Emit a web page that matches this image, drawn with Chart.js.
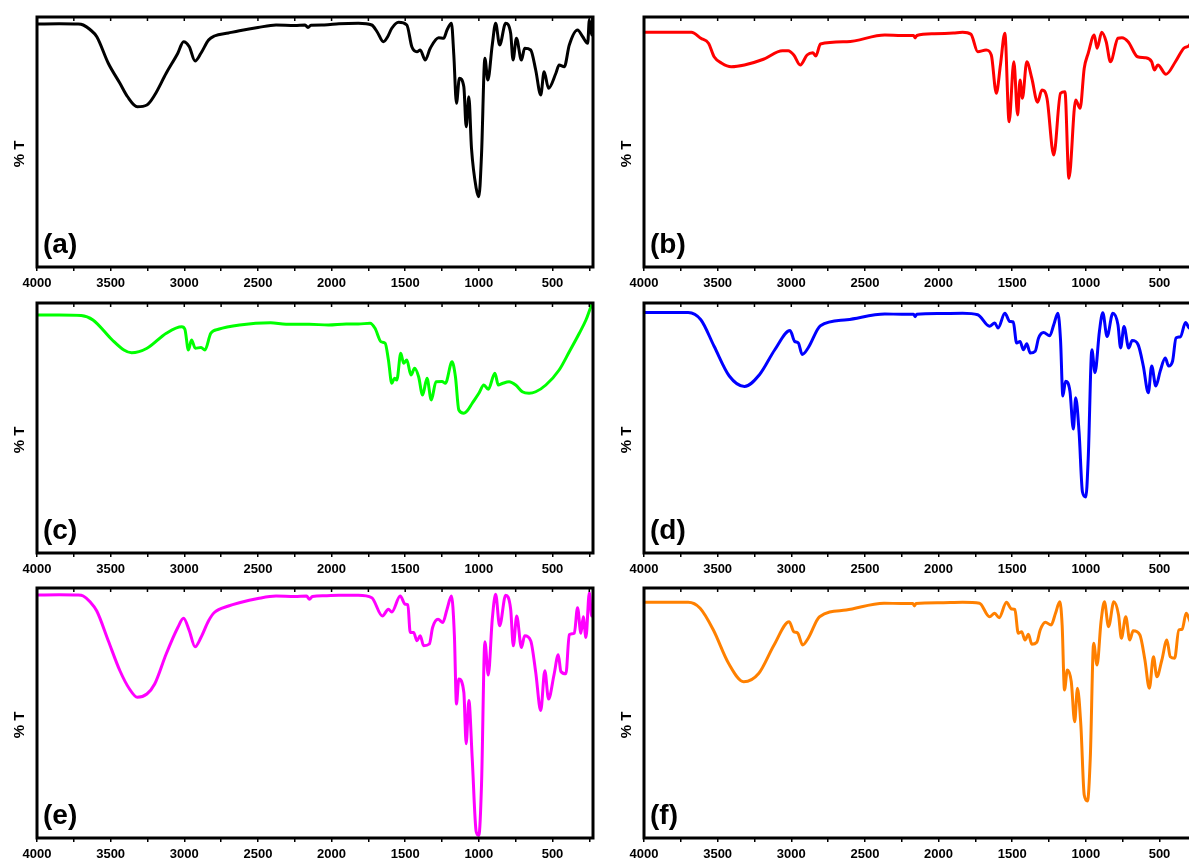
<!DOCTYPE html>
<html><head><meta charset="utf-8">
<script src="https://cdn.jsdelivr.net/npm/chart.js@4/dist/chart.umd.min.js"></script>
<style>
html,body{margin:0;padding:0;background:#fff;overflow:hidden;width:1189px;height:859px;position:relative}
.p{position:absolute;width:600px;height:300px}
</style></head><body>
<div class="p" style="left:0;top:0"><canvas id="ca" width="600" height="300"></canvas></div>
<div class="p" style="left:607px;top:0"><canvas id="cb" width="600" height="300"></canvas></div>
<div class="p" style="left:0;top:286px"><canvas id="cc" width="600" height="300"></canvas></div>
<div class="p" style="left:607px;top:286px"><canvas id="cd" width="600" height="300"></canvas></div>
<div class="p" style="left:0;top:571px"><canvas id="ce" width="600" height="300"></canvas></div>
<div class="p" style="left:607px;top:571px"><canvas id="cf" width="600" height="300"></canvas></div>
<script>
// ---- axis ticks / labels ----
const axisTicks = [4000,3750,3500,3250,3000,2750,2500,2250,2000,1750,1500,1250,1000,750,500,250];
const tickLabels = [4000,3500,3000,2500,2000,1500,1000,500];
const panelLabels = ['(a)','(b)','(c)','(d)','(e)','(f)'];
const yTitle = '% T';

// ---- (a) black ----
const waveA = [4000,3850,3720,3686,3640,3594,3516,3437,3385,3319,
  3254,3201,3123,3044,3005,2966,2927,2887,2835,2796,
  2700,2626,2500,2377,2250,2180,2160,2140,2050,1950,
  1818,1727,1690,1648,1620,1591,1545,1489,1455,1420,
  1398,1364,1330,1273,1239,1216,1186,1170,1152,1132,
  1102,1086,1068,1050,1018,1000,982,959,939,909,
  886,859,818,784,768,745,711,689,648,614,
  580,557,527,477,455,420,386,330,295,261,
  250,234,227];
const transA = [97.2,97.3,97.2,96.8,95.0,92.1,81.5,73.5,68.1,64.1,
  64.8,68.8,77.5,85.5,90.1,88.1,82.4,85.5,90.8,92.4,
  93.6,94.5,95.8,96.8,96.6,96.8,95.8,96.7,96.8,97.3,
  97.5,96.8,94.0,90.1,92.0,95.5,97.9,96.8,88.1,86.1,
  86.8,82.8,87.5,91.7,91.5,94.8,97.5,84.8,65.5,75.5,
  72.1,56.1,68.1,47.5,31.5,28.1,44.8,83.5,74.8,88.8,
  97.5,88.8,97.5,93.5,82.8,91.5,82.8,87.5,86.8,78.8,
  68.8,78.1,71.5,77.5,80.8,80.1,88.8,94.8,92.1,89.5,
  98.8,92.8,100];

// ---- (b) red ----
const waveB = [4000,3850,3678,3614,3562,3524,3472,3408,3318,3189,
  3060,3021,2983,2939,2893,2854,2833,2802,2622,2365,
  2250,2170,2159,2148,2030,1900,1837,1780,1734,1677,
  1642,1608,1580,1550,1521,1489,1463,1447,1431,1401,
  1367,1328,1298,1264,1218,1172,1142,1115,1069,1039,
  1011,984,943,924,892,862,833,782,755,713,
  649,599,553,535,511,456,392,335,300,261,
  227];
const transB = [93.9,93.9,93.9,91.5,89.5,84.1,81.5,80.1,80.8,83.1,
  86.5,86.5,84.8,80.8,84.8,85.7,84.4,89.2,90.1,92.8,
  92.6,92.6,91.6,92.6,93.3,93.6,93.9,93.1,86.1,86.8,
  84.8,69.5,80.8,93.5,58.1,82.1,60.8,74.8,67.5,82.1,
  75.5,65.9,70.8,67.5,44.8,69.5,70.1,35.5,66.8,63.5,
  79.5,85.5,92.8,87.5,93.9,90.1,82.1,91.5,91.7,90.1,
  84.1,83.7,82.1,78.8,80.8,77.1,82.1,87.5,88.5,92.1,
  95];

// ---- (c) green ----
const waveC = [4000,3850,3700,3620,3489,3410,3358,3253,3122,3017,
  2996,2972,2951,2925,2886,2860,2820,2768,2624,2414,
  2309,2152,2021,1900,1818,1739,1705,1664,1636,1614,
  1591,1573,1557,1530,1511,1489,1461,1436,1409,1382,
  1352,1323,1291,1250,1227,1182,1159,1136,1102,1080,
  1045,1000,966,936,891,868,841,795,750,705,
  659,614,545,455,386,318,273,239,227];
const transC = [95.2,95.2,95.0,93.2,85.2,81.2,80.1,81.9,87.9,90.5,
  89.5,81.2,85.2,81.9,82.2,81.2,87.9,89.5,91.2,92.1,
  91.5,91.5,91.2,91.6,91.6,91.9,89.9,84.5,83.9,77.2,
  67.9,69.9,69.2,79.9,75.9,77.2,71.2,73.9,70.5,63.2,
  69.9,61.2,68.5,68.6,67.9,76.5,70.5,57.2,55.9,56.8,
  59.9,63.9,67.2,65.5,71.9,67.2,67.8,68.5,67.2,64.5,
  63.9,64.5,67.2,73.2,80.5,87.9,93.2,98.5,100];

// ---- (d) blue ----
const waveD = [4000,3850,3700,3614,3524,3421,3318,3215,3112,3008,
  2978,2952,2926,2885,2802,2622,2365,2250,2170,2159,
  2148,2000,1837,1734,1654,1619,1596,1550,1516,1493,
  1470,1447,1424,1401,1378,1344,1321,1287,1245,1218,
  1190,1172,1156,1138,1108,1085,1069,1046,1023,1000,
  984,959,938,908,885,856,817,782,764,741,
  709,686,645,610,576,553,525,495,461,438,
  411,388,358,323,296,266,227];
const transD = [96.2,96.2,96.2,93.3,82.7,70.8,66.6,71.4,81.3,89.0,
  84.7,84.0,79.4,82.1,90.9,93.3,95.6,95.5,95.5,94.5,
  95.5,95.8,95.9,95.3,90.7,92.0,90.0,95.9,92.6,92.4,
  84.0,84.6,81.3,83.7,80.0,80.7,86.0,88.2,86.9,91.3,
  95.9,85.3,62.8,68.7,64.7,49.6,62.1,48.3,24.4,22.4,
  37.7,81.3,72.1,88.6,96.1,86.6,95.9,91.3,82.0,90.6,
  82.0,85.0,83.3,74.8,64.1,74.8,66.8,72.8,78.0,74.8,
  76.8,86.0,86.5,92.2,89.9,91.9,92];

// ---- (e) magenta ----
const waveE = [4000,3850,3720,3686,3640,3594,3516,3437,3372,3319,
  3254,3201,3123,3044,3005,2966,2927,2887,2835,2796,
  2700,2626,2500,2377,2250,2170,2150,2130,2050,1950,
  1818,1727,1655,1614,1591,1534,1500,1482,1466,1443,
  1420,1398,1375,1336,1314,1277,1245,1216,1186,1166,
  1152,1136,1102,1086,1068,1045,1018,1000,982,959,
  936,909,886,859,818,784,766,743,711,689,
  648,614,580,552,527,489,461,443,409,386,
  352,330,307,291,273,250,234,227];
const transE = [97.2,97.3,97.2,96.8,94.5,90.8,78.9,66.9,59.6,56.3,
  57.6,61.6,73.6,84.2,87.9,82.9,76.5,80.2,86.9,90.2,
  92.8,94.1,95.8,96.8,96.6,96.8,95.5,96.6,96.9,97.1,
  97.1,96.1,88.8,91.5,90.4,96.8,93.5,93.3,82.2,82.2,
  78.9,80.9,76.9,77.6,84.2,87.5,86.2,91.5,96.8,80.9,
  53.6,63.6,58.3,37.7,55.0,31.7,2.5,1.0,21.1,78.5,
  65.2,87.5,97.5,84.9,97.1,91.5,76.9,88.8,76.2,80.9,
  78.9,66.3,51.0,66.9,55.6,65.5,73.3,66.6,65.7,81.3,
  81.9,92.1,81.9,88.5,80.2,98.1,88.8,92.8];

// ---- (f) orange ----
const waveF = [4000,3850,3700,3619,3529,3426,3323,3220,3117,3014,
  2983,2957,2923,2885,2808,2627,2370,2250,2175,2164,
  2153,2000,1837,1722,1654,1619,1589,1539,1505,1482,
  1459,1436,1413,1390,1367,1333,1310,1275,1236,1206,
  1177,1161,1145,1126,1099,1076,1057,1034,1011,989,
  970,947,924,897,874,846,810,778,759,729,
  702,679,633,599,569,541,518,484,450,427,
  397,369,346,319,296,266,227];
const transF = [94.3,94.3,94.3,91.9,83.2,69.9,62.5,65.9,77.2,86.5,
  82.5,82.0,77.2,79.9,88.5,91.2,93.9,93.8,93.8,92.8,
  93.8,94.1,94.3,93.9,88.5,89.9,88.1,94.3,91.6,91.4,
  81.9,82.5,79.2,81.5,77.5,78.3,83.2,86.3,85.2,89.9,
  94.5,85.2,59.2,67.2,62.5,46.5,59.9,45.2,17.2,14.8,
  31.9,77.9,69.2,86.5,94.5,84.5,94.5,89.2,79.9,88.5,
  79.2,82.9,81.2,71.2,59.9,72.5,64.5,71.2,79.2,72.5,
  71.9,83.2,83.5,89.9,87.2,82.5,85];

const FONT = '"Liberation Sans", Arial, Helvetica, sans-serif';

const framePlugin = {
  id: 'frame',
  afterDraw(chart, args, opts) {
    const {ctx, chartArea: a} = chart;
    const x = chart.scales.x;
    ctx.save();
    ctx.strokeStyle = '#000';
    ctx.lineWidth = 1.5;
    x.ticks.forEach(t => {
      const px = x.getPixelForValue(t.value);
      ctx.beginPath(); ctx.moveTo(px, a.top); ctx.lineTo(px, a.top + 4); ctx.stroke();
    });
    ctx.lineWidth = 3;
    ctx.strokeRect(a.left, a.top, a.right - a.left, a.bottom - a.top);
    ctx.fillStyle = '#000';
    ctx.font = 'bold 15px ' + FONT;
    ctx.translate(a.left - 17, (a.top + a.bottom) / 2 + 12);
    ctx.rotate(-Math.PI / 2);
    ctx.textAlign = 'center'; ctx.textBaseline = 'middle';
    ctx.fillText(opts.title, 0, 0);
    ctx.restore();
    ctx.save();
    ctx.fillStyle = '#000';
    ctx.font = 'bold 28px ' + FONT;
    ctx.textAlign = 'left'; ctx.textBaseline = 'alphabetic';
    ctx.fillText(opts.label, a.left + 6, a.bottom - 14.5);
    ctx.restore();
  }
};

function makeChart(id, wave, trans, color, label) {
  new Chart(document.getElementById(id), {
    type: 'line',
    data: {
      datasets: [{
        data: wave.map((w, i) => ({x: w, y: trans[i]})),
        borderColor: color,
        borderWidth: 3,
        pointRadius: 0,
        fill: false,
        cubicInterpolationMode: 'monotone',
        tension: 0.4
      }]
    },
    options: {
      responsive: false,
      animation: false,
      events: [],
      layout: {padding: {left: 37, right: 7, top: 17, bottom: 0}},
      plugins: {
        legend: {display: false},
        tooltip: {enabled: false},
        frame: {title: yTitle, label: label}
      },
      scales: {
        x: {
          type: 'linear', reverse: true, min: 225, max: 4000,
          afterBuildTicks: s => { s.ticks = axisTicks.map(v => ({value: v})); },
          afterFit: s => { s.height = 33; },
          grid: {display: true, drawOnChartArea: false, drawTicks: true, tickLength: 4, color: '#000', lineWidth: 1.5},
          border: {display: false},
          ticks: {
            autoSkip: false, maxRotation: 0, padding: 5, color: '#000',
            font: {family: FONT, size: 13, weight: 'bold'},
            callback: v => tickLabels.includes(v) ? String(v) : ''
          }
        },
        y: {display: false, min: 0, max: 100}
      }
    },
    plugins: [framePlugin]
  });
}

makeChart('ca', waveA, transA, '#000000', panelLabels[0]);
makeChart('cb', waveB, transB, '#ff0000', panelLabels[1]);
makeChart('cc', waveC, transC, '#00ff00', panelLabels[2]);
makeChart('cd', waveD, transD, '#0000ff', panelLabels[3]);
makeChart('ce', waveE, transE, '#ff00ff', panelLabels[4]);
makeChart('cf', waveF, transF, '#ff8000', panelLabels[5]);
</script>
</body></html>
